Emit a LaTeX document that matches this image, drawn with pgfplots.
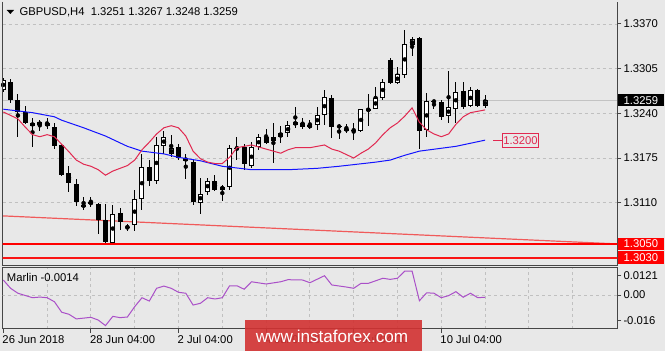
\documentclass[border=0pt]{standalone}
\usepackage{pgfplots}
\pgfplotsset{compat=1.18}
\usepackage{pgfplotstable}
\usepackage{fontspec}
\setmainfont{Liberation Sans}
\definecolor{bgc}{RGB}{232,232,232}
\definecolor{gridc}{RGB}{192,192,192}
\definecolor{maA}{RGB}{225,40,80}
\definecolor{maB}{RGB}{20,20,255}
\definecolor{trendc}{RGB}{240,90,90}
\definecolor{marlinc}{RGB}{170,80,200}
\definecolor{framec}{RGB}{70,70,70}
\definecolor{wmc}{RGB}{210,50,50}
\definecolor{bidc}{RGB}{195,195,195}
\newcommand\lf{\fontsize{11.3}{13}\selectfont}

% bullish candles (close > open)
\pgfplotstableread{
i o h l c
0 1.3274 1.3291 1.3271 1.3289
5 1.3223 1.3230 1.3215 1.3227
15 1.3052 1.3107 1.3048 1.3093
18 1.3078 1.3128 1.3069 1.3116
19 1.3115 1.3181 1.3099 1.3162
21 1.3142 1.3206 1.3137 1.3194
22 1.3192 1.3214 1.3181 1.3206
23 1.3181 1.3208 1.3177 1.3189
27 1.3110 1.3146 1.3093 1.3123
28 1.3126 1.3146 1.3121 1.3142
30 1.3129 1.3136 1.3112 1.3133
31 1.3133 1.3194 1.3128 1.3189
34 1.3163 1.3199 1.3160 1.3191
35 1.3191 1.3210 1.3187 1.3205
37 1.3200 1.3226 1.3168 1.3205
38 1.3205 1.3222 1.3197 1.3211
39 1.3211 1.3229 1.3206 1.3223
40 1.3223 1.3249 1.3219 1.3228
42 1.3220 1.3231 1.3217 1.3223
43 1.3223 1.3250 1.3216 1.3237
44 1.3237 1.3274 1.3223 1.3264
49 1.3215 1.3247 1.3213 1.3246
51 1.3247 1.3279 1.3246 1.3262
52 1.3262 1.3290 1.3259 1.3286
54 1.3284 1.3307 1.3283 1.3297
55 1.3296 1.3362 1.3292 1.3341
56 1.3339 1.3351 1.3323 1.3348
58 1.3216 1.3270 1.3205 1.3258
61 1.3236 1.3301 1.3226 1.3249
62 1.3247 1.3286 1.3226 1.3271
64 1.3251 1.3279 1.3249 1.3274
66 1.3251 1.3267 1.3248 1.3259
}\bullTab

% bearish candles and dojis (close <= open)
\pgfplotstableread{
i o h l c
1 1.3286 1.3290 1.3255 1.3259
2 1.3260 1.3268 1.3206 1.3242
3 1.3242 1.3250 1.3225 1.3226
4 1.3226 1.3234 1.3191 1.3222
6 1.3226 1.3234 1.3217 1.3222
7 1.3220 1.3226 1.3188 1.3192
8 1.3194 1.3196 1.3149 1.3151
9 1.3154 1.3164 1.3125 1.3139
10 1.3138 1.3144 1.3105 1.3111
11 1.3106 1.3119 1.3100 1.3105
12 1.3111 1.3119 1.3104 1.3108
13 1.3108 1.3110 1.3065 1.3085
14 1.3085 1.3108 1.3051 1.3053
16 1.3095 1.3102 1.3070 1.3082
17 1.3075 1.3079 1.3069 1.3074
20 1.3162 1.3172 1.3134 1.3141
24 1.3191 1.3196 1.3172 1.3175
25 1.3175 1.3181 1.3144 1.3171
26 1.3170 1.3173 1.3107 1.3111
29 1.3142 1.3150 1.3127 1.3128
32 1.3190 1.3205 1.3172 1.3189
33 1.3191 1.3196 1.3158 1.3166
36 1.3205 1.3217 1.3196 1.3197
41 1.3226 1.3233 1.3217 1.3220
45 1.3263 1.3267 1.3204 1.3220
46 1.3222 1.3225 1.3202 1.3220
47 1.3218 1.3225 1.3212 1.3215
48 1.3216 1.3226 1.3201 1.3215
50 1.3246 1.3268 1.3222 1.3245
53 1.3318 1.3320 1.3283 1.3284
57 1.3349 1.3351 1.3188 1.3215
59 1.3258 1.3260 1.3246 1.3257
60 1.3257 1.3259 1.3230 1.3235
63 1.3273 1.3286 1.3246 1.3250
65 1.3274 1.3276 1.3249 1.3251
}\bearTab

% fast moving average (crimson)
\pgfplotstableread{
i v
0 1.3242
2 1.3232
3 1.3220
4 1.3209
5 1.3206
6 1.3209
7 1.3206
8 1.3195
9 1.3184
10 1.3172
11 1.3166
12 1.3163
13 1.3158
14 1.3150
15 1.3156
16 1.3160
17 1.3164
18 1.3172
19 1.3187
20 1.3198
21 1.3210
22 1.3219
23 1.3222
24 1.3219
25 1.3207
26 1.3185
27 1.3174
28 1.3169
29 1.3167
30 1.3167
31 1.3176
32 1.3190
33 1.3192
34 1.3194
35 1.3191
36 1.3188
37 1.3185
38 1.3182
39 1.3187
40 1.3190
41 1.3190
42 1.3190
43 1.3192
44 1.3194
45 1.3188
46 1.3185
47 1.3180
48 1.3175
49 1.3182
50 1.3188
51 1.3197
52 1.3209
53 1.3219
54 1.3226
55 1.3236
56 1.3248
57 1.3227
58 1.3216
59 1.3210
60 1.3206
61 1.3210
62 1.3224
63 1.3235
64 1.3241
65 1.3243
66 1.3245
}\maFast

% slow moving average (blue)
\pgfplotstableread{
i v
0 1.3246
4 1.3241
7 1.3235
8 1.3230
11 1.3219
14 1.3207
17 1.3192
19 1.3185
22 1.3181
24 1.3176
27 1.3171
30 1.3163
34 1.3158
39 1.3158
43 1.3160
46 1.3163
51 1.3169
53 1.3172
55 1.3179
57 1.3185
62 1.3192
66 1.3201
}\maSlow

% Marlin oscillator
\pgfplotstableread{
i v
0 0.0094
1 0.0042
2 0.0011
4 -0.0017
5 -0.0013
6 -0.0017
7 -0.0042
8 -0.0108
9 -0.0121
10 -0.0150
12 -0.0140
13 -0.0157
14 -0.0192
15 -0.0134
16 -0.0142
17 -0.0138
18 -0.0073
19 -0.0017
20 -0.0038
21 0.0042
22 0.0056
23 0.0042
24 0.0017
25 0.0011
26 -0.0063
27 -0.0052
28 -0.0017
29 -0.0025
30 -0.0017
31 0.0058
32 0.0058
33 0.0036
34 0.0083
36 0.0069
38 0.0083
39 0.0096
41 0.0094
42 0.0077
44 0.0121
45 0.0063
47 0.0050
48 0.0042
49 0.0073
50 0.0073
52 0.0105
53 0.0098
54 0.0105
55 0.0150
56 0.0150
57 -0.0036
58 0.0014
59 0.0011
60 -0.0017
61 -0.0004
62 0.0021
63 -0.0014
64 0.0011
65 -0.0017
66 -0.0014
}\marlinTab

% horizontal levels
\pgfplotstableread{
x y
-1 1.3050
90 1.3050
}\levA
\pgfplotstableread{
x y
-1 1.3030
90 1.3030
}\levB

\pgfplotsset{
  mt4/.style={
    scale only axis, width=614.6bp,
    xmin=-0.082, xmax=84.11,
    axis background/.style={fill=bgc, draw=none},
    tick style={draw=framec, line width=1bp},
    tick align=outside, major tick length=4bp, minor tick length=0pt,
    minor xtick={6,12,...,78}, xminorgrids,
    grid style={draw=gridc, dash pattern=on 3bp off 3bp, line width=0.8bp},
    minor grid style={draw=gridc, dash pattern=on 3bp off 3bp, line width=0.8bp},
    ytick pos=right, yticklabel pos=right,
    scaled ticks=false,
    tick label style={font=\lf},
    yticklabel style={anchor=west, inner sep=0pt, xshift=2bp},
    clip mode=individual,
  },
  wick/.style={only marks, mark=none, error bars/.cd, y dir=both, y explicit,
    error mark=none, error bar style={draw=black, line width=1bp, solid}},
  bodyK/.style={only marks, mark=none, error bars/.cd, y dir=both, y explicit,
    error mark=none, error bar style={draw=black, line width=5bp, solid}},
  bodyW/.style={only marks, mark=none, error bars/.cd, y dir=both, y explicit,
    error mark=none, error bar style={draw=white, line width=3bp, solid}},
}

\begin{document}
\begin{tikzpicture}
\path[use as bounding box, fill=bgc] (0,0) rectangle (665bp,351bp);

% ---------------- indicator panel ----------------
\begin{axis}[mt4,
  at={(2.7bp,22bp)}, anchor=south west, height=61.3bp,
  ymin=-0.02132, ymax=0.01712,
  axis line style={draw=framec, line width=1bp},
  xtick={0,12,24,36,48,60},
  xticklabels={26 Jun 2018,28 Jun 04:00,2 Jul 04:00,4 Jul 04:00,6 Jul 04:00,10 Jul 04:00},
  xtick pos=bottom,
  xticklabel style={anchor=north west, inner sep=0pt, xshift=-1bp, yshift=-2bp},
  ytick={-0.016,0,0.0121},
  yticklabels={-0.016,0.00,0.0121},
]
\addplot[draw=gridc, dash pattern=on 3bp off 3bp, line width=0.8bp] coordinates {(-1,0) (90,0)};
\addplot[draw=marlinc, line width=1bp] table[x=i, y=v]{\marlinTab};
\end{axis}

% ---------------- main price panel ----------------
\begin{axis}[mt4,
  at={(2.7bp,85.3bp)}, anchor=south west, height=264bp,
  ymin=1.301833, ymax=1.340245,
  separate axis lines,
  axis line style={draw=none},
  xtick=\empty,
  ytick={1.3110,1.3175,1.3240,1.3305,1.3370},
  yticklabels={1.3110,1.3175,1.3240,1.3305,1.3370},
  ymajorgrids,
]
% trend line and bid line
\addplot[draw=trendc, line width=1.2bp] coordinates {(-0.45,1.3091) (84.1,1.3050)};
\addplot[draw=bidc, line width=1.4bp] coordinates {(-1,1.3259) (90,1.3259)};
% wicks
\addplot[wick] table[x=i, y expr={(\thisrow{h}+\thisrow{l})/2}, y error expr={(\thisrow{h}-\thisrow{l})/2}]{\bullTab};
\addplot[wick] table[x=i, y expr={(\thisrow{h}+\thisrow{l})/2}, y error expr={(\thisrow{h}-\thisrow{l})/2}]{\bearTab};
% bodies
\addplot[bodyK] table[x=i, y expr={(\thisrow{o}+\thisrow{c})/2}, y error expr={max(abs(\thisrow{o}-\thisrow{c})/2,0.00005)}]{\bearTab};
\addplot[bodyK] table[x=i, y expr={(\thisrow{o}+\thisrow{c})/2}, y error expr={max(abs(\thisrow{c}-\thisrow{o})/2,0.00005)}]{\bullTab};
\addplot[bodyW] table[x=i, y expr={(\thisrow{o}+\thisrow{c})/2}, y error expr={max((\thisrow{c}-\thisrow{o})/2-0.000146,0)}]{\bullTab};
% moving averages
\addplot[draw=maB, line width=1bp] table[x=i, y=v]{\maSlow};
\addplot[draw=maA, line width=1bp] table[x=i, y=v]{\maFast};
% frame (left, bottom, right)
\draw[framec, line width=1bp] (rel axis cs:0,1) -- (rel axis cs:0,0) -- (rel axis cs:1,0) -- (rel axis cs:1,1);
% support levels
\addplot[color=red, solid, line width=1.6bp, mark=none] table[x=x, y=y]{\levA};
\addplot[color={rgb,255:red,250;green,20;blue,20}, solid, line width=2bp, mark=none] table[x=x, y=y]{\levB};
% annotations
\draw[maA, line width=1bp] (axis cs:67.1,1.3200) -- (axis cs:68.3,1.3200)
  node[anchor=west, draw=maA, fill=bgc, text=maA, font=\lf, inner xsep=1bp, inner ysep=0pt,
       minimum height=14bp, line width=0.8bp] {1.3200};
\node[fill=red, text=white, font=\lf, anchor=west, inner xsep=5.5bp, inner ysep=0pt, minimum height=12.8bp]
  at (axis cs:84.2,1.3030) {1.3030};
\node[fill=red, text=white, font=\lf, anchor=west, inner xsep=5.5bp, inner ysep=0pt, minimum height=12.8bp]
  at (axis cs:84.2,1.3050) {1.3050};
\node[fill=black, text=white, font=\lf, anchor=west, inner xsep=5.5bp, inner ysep=0pt, minimum height=12bp]
  at (axis cs:84.2,1.3259) {1.3259};
\end{axis}

% ---------------- texts ----------------
\fill[black] (6.7bp,341bp) -- (14bp,341bp) -- (10.35bp,337bp) -- cycle;
\node[anchor=base west, inner sep=0pt, font=\lf] at (19.3bp,335bp) {GBPUSD,H4\ \ 1.3251 1.3267 1.3248 1.3259};
\node[anchor=base west, inner sep=0pt, font=\lf] at (6.7bp,69.3bp) {Marlin -0.0014};
\fill[wmc, fill opacity=0.9] (245bp,0bp) rectangle (422bp,31bp);
\node[anchor=base, inner sep=0pt, text=white, font=\fontsize{17.2}{20}\selectfont] at (332bp,8.7bp) {www.instaforex.com};
\end{tikzpicture}
\end{document}
